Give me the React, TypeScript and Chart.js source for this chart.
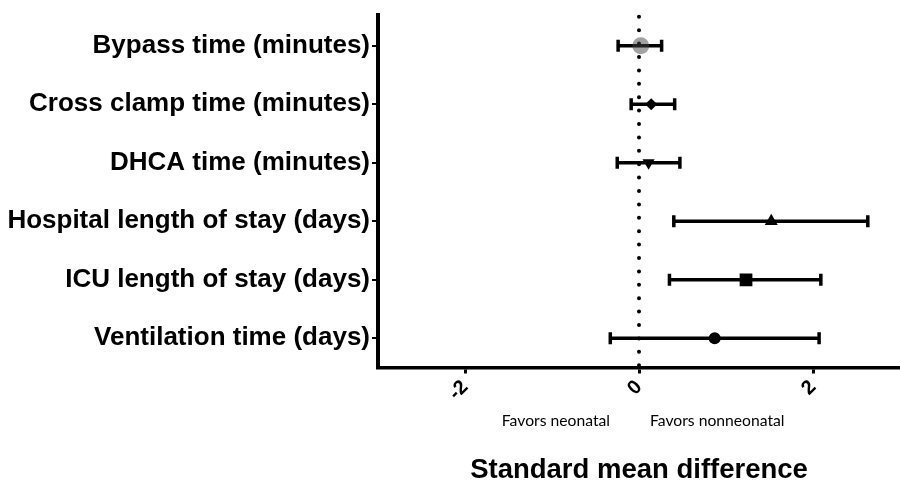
import React, { useEffect, useRef } from 'react';
import { Chart, registerables } from 'chart.js';
Chart.register(...registerables);

const outcomes = [
  'Bypass time (minutes)',
  'Cross clamp time (minutes)',
  'DHCA time (minutes)',
  'Hospital length of stay (days)',
  'ICU length of stay (days)',
  'Ventilation time (days)',
];
const smd = [0.02, 0.14, 0.11, 1.52, 1.23, 0.87];
const ciLow = [-0.24, -0.09, -0.25, 0.4, 0.35, -0.33];
const ciHigh = [0.26, 0.41, 0.47, 2.63, 2.09, 2.07];
const xTicks = [-2, 0, 2];
const axisTitle = 'Standard mean difference';
const leftNote = 'Favors neonatal';
const rightNote = 'Favors nonneonatal';

const markerStyles = ['circle', 'rectRot', 'triangle', 'triangle', 'rect', 'circle'];
const markerRotation = [0, 0, 180, 0, 0, 0];
const markerRadius = [8.5, 6, 7, 7.5, 9, 6];
const markerColors = ['rgba(70,70,70,0.5)', '#000', '#000', '#000', '#000', '#000'];

const forestPlugin = {
  id: 'forest',
  beforeDatasetsDraw(chart: any) {
    const { ctx, scales, chartArea } = chart;
    const x = scales.x;
    const y = scales.y;
    ctx.save();
    const x0 = x.getPixelForValue(0);
    ctx.strokeStyle = '#000';
    ctx.lineWidth = 4;
    ctx.lineCap = 'round';
    ctx.setLineDash([0, 13.4]);
    ctx.beginPath();
    ctx.moveTo(x0, chartArea.top + 2);
    ctx.lineTo(x0, chartArea.bottom);
    ctx.stroke();
    ctx.setLineDash([]);
    ctx.lineCap = 'butt';
    ctx.lineWidth = 3.5;
    for (let i = 0; i < smd.length; i++) {
      const py = y.getPixelForValue(i);
      const xl = x.getPixelForValue(ciLow[i]);
      const xh = x.getPixelForValue(ciHigh[i]);
      ctx.beginPath();
      ctx.moveTo(xl, py);
      ctx.lineTo(xh, py);
      ctx.moveTo(xl, py - 6);
      ctx.lineTo(xl, py + 6);
      ctx.moveTo(xh, py - 6);
      ctx.lineTo(xh, py + 6);
      ctx.stroke();
    }
    ctx.restore();
  },
  afterDraw(chart: any) {
    const { ctx, scales } = chart;
    const x0 = scales.x.getPixelForValue(0);
    ctx.save();
    ctx.fillStyle = '#000';
    ctx.font = '15.7px Lato, "Open Sans", sans-serif';
    ctx.textBaseline = 'middle';
    ctx.textAlign = 'right';
    ctx.fillText(leftNote, x0 - 29, 420.5);
    ctx.textAlign = 'left';
    ctx.fillText(rightNote, x0 + 11, 420.5);
    ctx.restore();
  },
};

export default function App() {
  const ref = useRef<HTMLCanvasElement>(null);
  useEffect(() => {
    if (!ref.current) return;
    const chart = new Chart(ref.current, {
      type: 'scatter',
      data: {
        datasets: [
          {
            data: smd.map((v, i) => ({ x: v, y: i })),
            pointStyle: markerStyles as any,
            pointRotation: markerRotation,
            pointRadius: markerRadius,
            pointBackgroundColor: markerColors,
            pointBorderWidth: 0,
          },
        ],
      },
      options: {
        responsive: false,
        animation: false,
        layout: { autoPadding: false, padding: { top: 14.8, right: 0, left: 0, bottom: 0 } },
        plugins: { legend: { display: false }, tooltip: { enabled: false } },
        scales: {
          x: {
            type: 'linear',
            min: -3,
            max: 3,
            afterBuildTicks: (s: any) => {
              s.ticks = xTicks.map((v) => ({ value: v }));
            },
            afterFit: (s: any) => {
              s.height = 114.5;
              s.paddingLeft = 0;
              s.paddingRight = 0;
            },
            grid: {
              drawOnChartArea: false,
              drawTicks: true,
              tickLength: 6,
              color: '#000',
              lineWidth: 3,
            },
            border: { display: true, color: '#000', width: 3.5 },
            ticks: {
              minRotation: 45,
              maxRotation: 45,
              color: '#000',
              padding: 2,
              font: { family: 'Liberation Sans, Arial, sans-serif', size: 20, weight: 'bold' },
              callback: (v: any) => String(v),
            },
            title: {
              display: true,
              text: axisTitle,
              color: '#000',
              font: { family: 'Liberation Sans, Arial, sans-serif', size: 27.5, weight: 'bold' },
              padding: { top: 0, bottom: -5 },
            },
          },
          y: {
            type: 'linear',
            reverse: true,
            min: -0.53,
            max: 5.5,
            afterBuildTicks: (s: any) => {
              s.ticks = outcomes.map((_, i) => ({ value: i }));
            },
            afterFit: (s: any) => {
              s.width = 378;
              s.paddingTop = 0;
              s.paddingBottom = 0;
            },
            grid: {
              drawOnChartArea: false,
              drawTicks: true,
              tickLength: 6,
              color: '#000',
              lineWidth: 2,
            },
            border: { display: true, color: '#000', width: 4 },
            ticks: {
              autoSkip: false,
              color: '#000',
              padding: 2,
              font: { family: 'Liberation Sans, Arial, sans-serif', size: 26, weight: 'bold' },
              callback: (v: any) => outcomes[v as number] ?? '',
            },
          },
        },
      },
      plugins: [forestPlugin],
    });
    return () => chart.destroy();
  }, []);
  return (
    <div style={{ position: 'absolute', left: 0, top: 0, width: 900, height: 482, background: '#fff' }}>
      <canvas ref={ref} width={900} height={482} />
    </div>
  );
}
